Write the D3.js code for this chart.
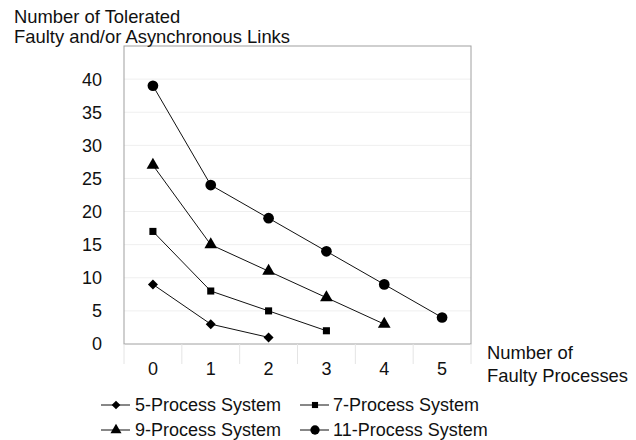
<!DOCTYPE html>
<html>
<head>
<meta charset="utf-8">
<script src="https://cdn.jsdelivr.net/npm/d3@7"></script>
<style>
  body { margin: 0; background: #fff; }
  svg text { font-family: "Liberation Sans", Arial, sans-serif; fill: #111; }
</style>
</head>
<body>
<svg width="636" height="440"></svg>
<script>
const svg = d3.select("svg");

// data
const faulty = [0, 1, 2, 3, 4, 5];
const seriesNames = ["5-Process System", "7-Process System", "9-Process System", "11-Process System"];
const sys5 = [9, 3, 1];
const sys7 = [17, 8, 5, 2];
const sys9 = [27, 15, 11, 7, 3];
const sys11 = [39, 24, 19, 14, 9, 4];
const yTicks = [0, 5, 10, 15, 20, 25, 30, 35, 40];

// diamond = square turned 45 degrees
const series = [
  { name: seriesNames[0], values: sys5, symbol: d3.symbolSquare, size: 50, rot: 45 },
  { name: seriesNames[1], values: sys7, symbol: d3.symbolSquare, size: 50, rot: 0 },
  { name: seriesNames[2], values: sys9, symbol: d3.symbolTriangle, size: 70, rot: 0 },
  { name: seriesNames[3], values: sys11, symbol: d3.symbolCircle, size: 90, rot: 0 }
];

const plotL = 124, plotR = 471, plotT = 46, plotB = 344;

const x = d3.scaleBand().domain(faulty).range([plotL, plotR]);
const y = d3.scaleLinear().domain([0, 45]).range([plotB, plotT]);

// gridlines
svg.append("g")
  .selectAll("line")
  .data(yTicks.filter(d => d > 0))
  .enter().append("line")
  .attr("x1", plotL).attr("x2", plotR)
  .attr("y1", d => y(d)).attr("y2", d => y(d))
  .attr("stroke", "#efefef");

// plot box
svg.append("rect")
  .attr("x", plotL).attr("y", plotT)
  .attr("width", plotR - plotL).attr("height", plotB - plotT)
  .attr("fill", "none").attr("stroke", "#a0a0a0");

// y axis labels
svg.append("g")
  .selectAll("text")
  .data(yTicks)
  .enter().append("text")
  .attr("x", 102)
  .attr("y", d => y(d))
  .attr("dy", "0.36em")
  .attr("text-anchor", "end")
  .attr("font-size", 18)
  .text(d => d);

// x axis category ticks
svg.append("g")
  .selectAll("line")
  .data(faulty.concat([6]))
  .enter().append("line")
  .attr("x1", (d, i) => plotL + i * x.bandwidth())
  .attr("x2", (d, i) => plotL + i * x.bandwidth())
  .attr("y1", plotB).attr("y2", 364)
  .attr("stroke", "#e4e4e4");

svg.append("g")
  .selectAll("text")
  .data(faulty)
  .enter().append("text")
  .attr("x", d => x(d) + x.bandwidth() / 2)
  .attr("y", 369)
  .attr("dy", "0.36em")
  .attr("text-anchor", "middle")
  .attr("font-size", 18)
  .text(d => d);

// axis titles
svg.append("text").attr("x", 14).attr("y", 23).attr("font-size", 18.4).text("Number of Tolerated");
svg.append("text").attr("x", 14).attr("y", 43).attr("font-size", 18.4).text("Faulty and/or Asynchronous Links");
svg.append("text").attr("x", 487).attr("y", 359).attr("font-size", 18.4).text("Number of");
svg.append("text").attr("x", 487).attr("y", 382).attr("font-size", 18.4).text("Faulty Processes");

// lines and markers
const line = d3.line()
  .x((d, i) => x(faulty[i]) + x.bandwidth() / 2)
  .y(d => y(d));

series.forEach(s => {
  svg.append("path")
    .attr("d", line(s.values))
    .attr("fill", "none")
    .attr("stroke", "#111")
    .attr("stroke-width", 1);

  svg.append("g")
    .selectAll("path")
    .data(s.values)
    .enter().append("path")
    .attr("transform", (d, i) => `translate(${x(faulty[i]) + x.bandwidth() / 2},${y(d)}) rotate(${s.rot})`)
    .attr("d", d3.symbol().type(s.symbol).size(s.size))
    .attr("fill", "#000");
});

// legend
const legendPos = [
  { lx: 101, ty: 405, tx: 135 }, { lx: 300, ty: 405, tx: 333 },
  { lx: 101, ty: 430, tx: 135 }, { lx: 300, ty: 430, tx: 333 }
];

series.forEach((s, i) => {
  const p = legendPos[i];
  const g = svg.append("g");
  g.append("line")
    .attr("x1", p.lx).attr("x2", p.lx + 29)
    .attr("y1", p.ty).attr("y2", p.ty)
    .attr("stroke", "#111");
  g.append("path")
    .attr("transform", `translate(${p.lx + 15},${p.ty}) rotate(${s.rot})`)
    .attr("d", d3.symbol().type(s.symbol).size(s.size * 0.75))
    .attr("fill", "#000");
  g.append("text")
    .attr("x", p.tx)
    .attr("y", p.ty)
    .attr("dy", "0.36em")
    .attr("font-size", 18)
    .text(s.name);
});
</script>
</body>
</html>
